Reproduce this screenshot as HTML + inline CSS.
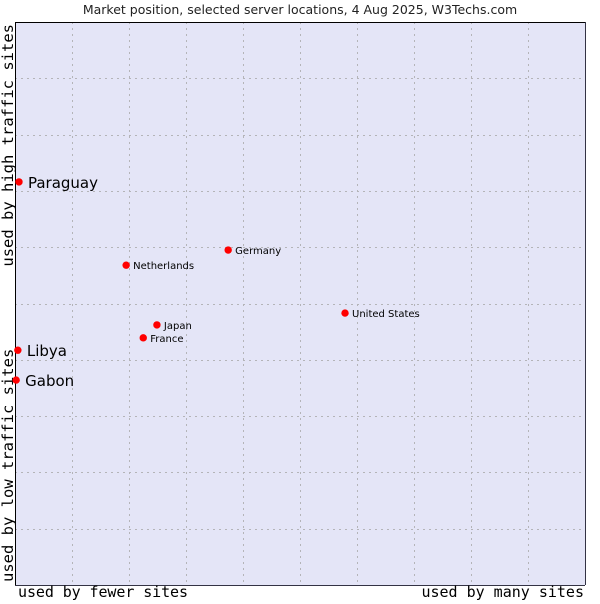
<!DOCTYPE html>
<html><head><meta charset="utf-8"><style>
body{margin:0;background:#fff;font-family:"DejaVu Sans","Liberation Sans",sans-serif}
svg text{font-family:"DejaVu Sans","Liberation Sans",sans-serif}
svg text.mono{font-family:"DejaVu Sans Mono","Liberation Mono",monospace}
</style></head><body>
<svg id="chart" width="600" height="600" xmlns="http://www.w3.org/2000/svg">
<text x="300" y="14" text-anchor="middle" font-size="12.5" fill="#222">Market position, selected server locations, 4 Aug 2025, W3Techs.com</text>
<rect x="15" y="22" width="570" height="563" fill="#e4e5f7"/>
<g id="grid"></g>
<line x1="15.5" y1="22" x2="15.5" y2="585" stroke="#000"/>
<line x1="15" y1="22.5" x2="585" y2="22.5" stroke="#000"/>
<line x1="585.5" y1="22" x2="585.5" y2="585" stroke="#334"/>
<line x1="15" y1="585.5" x2="585" y2="585.5" stroke="#334"/>
<text class="mono" x="18" y="597" textLength="170" font-size="15" fill="#000">used by fewer sites</text>
<text class="mono" x="584" y="597" text-anchor="end" font-size="15" fill="#000">used by many sites</text>
<text class="mono" transform="translate(13,24) rotate(-90)" text-anchor="end" font-size="15.5" fill="#000">used by high traffic sites</text>
<text class="mono" transform="translate(13,582) rotate(-90)" font-size="15.5" fill="#000">used by low traffic sites</text>
<g id="points"></g>
</svg>
<script>
const names=["Paraguay","Libya","Gabon","Netherlands","Germany","United States","Japan","France"];
const xValues=[0.7,0.5,0.2,19.5,37.4,57.9,24.9,22.5];
const yValues=[71.6,41.7,36.4,56.8,59.5,48.3,46.2,43.9];
const bigLabel=[true,true,true,false,false,false,false,false];
const NS="http://www.w3.org/2000/svg";
const X=v=>15+v*5.7, Y=v=>585-v*5.63;
const grid=document.getElementById('grid');
for(let i=1;i<10;i++){
  const v=document.createElementNS(NS,'line');
  
  
  const gx=Math.round(X(i*10))+0.5;
  v.setAttribute('x1',gx);v.setAttribute('x2',gx);v.setAttribute('y1',22);v.setAttribute('y2',585);
  v.setAttribute('stroke','#b4b4b8');v.setAttribute('stroke-dasharray','2,4');grid.appendChild(v);
  const h=document.createElementNS(NS,'line');
  
  
  const gy=Math.round(Y(i*10))+0.5;
  h.setAttribute('x1',15);h.setAttribute('x2',585);h.setAttribute('y1',gy);h.setAttribute('y2',gy);
  h.setAttribute('stroke','#b4b4b8');h.setAttribute('stroke-dasharray','2,4');grid.appendChild(h);
}
const pts=document.getElementById('points');
names.forEach((n,i)=>{
  const cx=X(xValues[i]), cy=Y(yValues[i]);
  const c=document.createElementNS(NS,'circle');
  
  
  c.setAttribute('cx',cx);c.setAttribute('cy',cy);c.setAttribute('r',3.7);c.setAttribute('fill','#f00');
  pts.appendChild(c);
  const t=document.createElementNS(NS,'text');
  
  
  t.setAttribute('x',cx+(bigLabel[i]?9:7));t.setAttribute('y',cy+(bigLabel[i]?6:4));
  t.setAttribute('font-size',bigLabel[i]?15:10);t.setAttribute('fill','#000');
  t.textContent=n;pts.appendChild(t);
});
</script>
</body></html>
